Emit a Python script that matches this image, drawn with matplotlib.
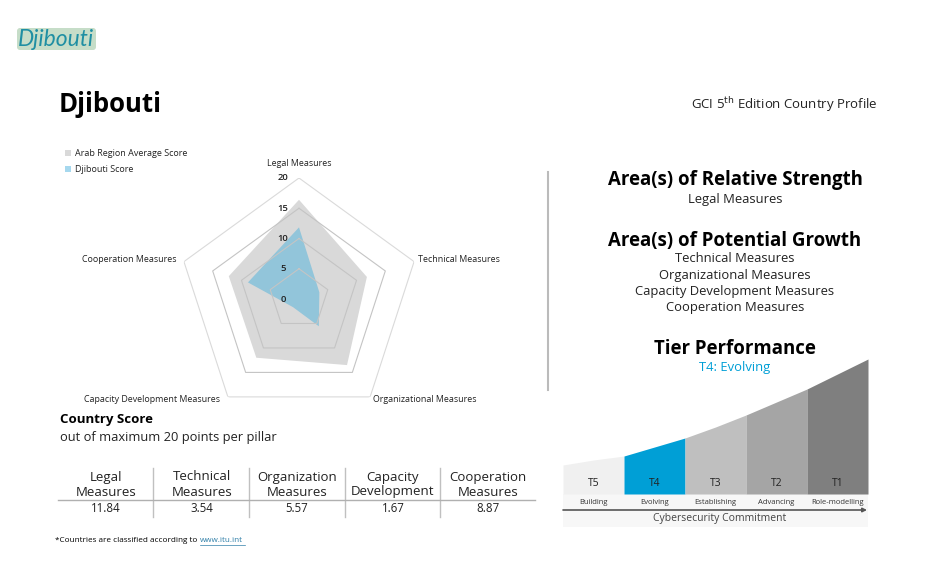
import numpy as np
import matplotlib
matplotlib.use("Agg")
import matplotlib.pyplot as plt
from matplotlib.patches import FancyBboxPatch, Rectangle
from matplotlib.transforms import offset_copy

plt.rcParams['font.family'] = ['Open Sans', 'DejaVu Sans']

# data
pillars = ["Legal Measures", "Technical Measures", "Organizational Measures",
           "Capacity Development Measures", "Cooperation Measures"]
country_scores = [11.84, 3.54, 5.57, 1.67, 8.87]
region_scores = [16.4, 11.8, 13.5, 12.0, 12.2]
radar_ticks = [0, 5, 10, 15, 20]

table_heads = [("Legal", "Measures"), ("Technical", "Measures"),
               ("Organization", "Measures"), ("Capacity", "Development"),
               ("Cooperation", "Measures")]

strength_areas = ["Legal Measures"]
growth_areas = ["Technical Measures", "Organizational Measures",
                "Capacity Development Measures", "Cooperation Measures"]

tier_codes = ["T5", "T4", "T3", "T2", "T1"]
tier_names = ["Building", "Evolving", "Establishing", "Advancing", "Role-modelling"]
tier_colors = ["#f0f0f0", "#009fd6", "#bfbfbf", "#a5a5a5", "#7f7f7f"]
curve_x = [0, 0.5, 1, 1.5, 2, 2.5, 3, 3.5, 4, 4.5, 5]
curve_h = [29, 34, 38, 47, 56, 67, 79, 92, 105, 120, 135]
current_tier = 1

W, H = 927, 579
fig = plt.figure(figsize=(W / 100, H / 100), dpi=100)

# overlay in pixel coordinates for text and decoration
bg = fig.add_axes([0, 0, 1, 1])
bg.set_xlim(0, W)
bg.set_ylim(H, 0)
bg.axis('off')

# header
bg.add_patch(FancyBboxPatch((17, 28), 79, 22, boxstyle="round,pad=0,rounding_size=3",
                            fc="#c6ddc8", ec="none"))
bg.text(18, 39.5, "Djibouti", fontsize=16.5, style='italic', color="#1f8fa3",
        va='center', ha='left', family=['Lato', 'DejaVu Sans'])
bg.text(59, 104, "Djibouti", fontsize=18.5, fontweight='bold', va='center', ha='left')
bg.text(878, 105, r"GCI 5$^{\rm th}$ Edition Country Profile", fontsize=9.5,
        va='center', ha='right', color="#222222")

# radar chart
cx, cy, rad = 299, 299, 121
ax = fig.add_axes([(cx - rad) / W, 1 - (cy + rad) / H, 2 * rad / W, 2 * rad / H],
                  projection='polar')
ax.set_theta_offset(np.pi / 2)
ax.set_theta_direction(-1)
ax.set_ylim(0, 20)
ax.grid(False)
ax.spines['polar'].set_visible(False)
ax.set_xticks([])
ax.set_yticks([])
ax.patch.set_alpha(0)

ang = np.linspace(0, 2 * np.pi, len(pillars), endpoint=False)
ang_c = np.append(ang, ang[0])
ax.fill(ang_c, np.append(region_scores, region_scores[0]), color="#d9d9d9", lw=0, zorder=1)
ax.fill(ang_c, np.append(country_scores, country_scores[0]), color="#92c5da", lw=0, zorder=2)
for v in radar_ticks[1:]:
    ax.plot(ang_c, [v] * len(ang_c), color="#c4c4c4" if v < 20 else "#dadada",
            lw=0.8, zorder=3)
lab_tr = offset_copy(ax.transData, fig=fig, x=-16, y=0, units='dots')
for v in radar_ticks:
    ax.text(0, v, str(v), transform=lab_tr, fontsize=6.8, ha='center', va='center',
            color="#222222", fontweight='semibold', zorder=4)

label_pos = [(299, 163, 'center'), (418, 259, 'left'), (373, 399, 'left'),
             (220, 399, 'right'), (177, 259, 'right')]
for name, (x, y, ha) in zip(pillars, label_pos):
    bg.text(x, y, name, fontsize=6.4, ha=ha, va='center', color="#222222")

# legend
bg.add_patch(Rectangle((65, 150), 6, 6, fc="#d9d9d9", ec="none"))
bg.text(75, 153, "Arab Region Average Score", fontsize=6.5, va='center', color="#222222")
bg.add_patch(Rectangle((65, 166), 6, 6, fc="#a6d8ee", ec="none"))
bg.text(75, 169, "Djibouti Score", fontsize=6.5, va='center', color="#222222")

# country score table
bg.text(60, 420, "Country Score", fontsize=9.5, fontweight='bold', va='center')
bg.text(60, 437, "out of maximum 20 points per pillar", fontsize=9.3, va='center',
        color="#222222")
col_x = [106, 202, 297, 393, 488]
for i, ((h1, h2), val) in enumerate(zip(table_heads, country_scores)):
    bg.text(col_x[i], 477, h1, fontsize=9.5, ha='center', va='center', color="#222222")
    bg.text(col_x[i], 492, h2, fontsize=9.5, ha='center', va='center', color="#222222")
    bg.text(col_x[i], 509, f"{val:.2f}", fontsize=8.3, ha='center', va='center',
            color="#222222")
for x in [153, 249, 345, 440]:
    bg.plot([x, x], [468, 517], color="#c0c0c0", lw=1)
bg.plot([58, 535], [500, 500], color="#b0b0b0", lw=1)

bg.text(55, 541, "*Countries are classified according to", fontsize=5.9, va='center')
bg.text(200, 541, "www.itu.int", fontsize=5.9, va='center', color="#2f7fa8")
bg.plot([200, 245], [545, 545], color="#2f7fa8", lw=0.5)

# divider
bg.plot([548, 548], [172, 390], color="#bbbbbb", lw=1.5)

# right side text
rx = 735
bg.text(rx, 180, "Area(s) of Relative Strength", fontsize=13.4, fontweight='bold',
        ha='center', va='center')
for k, s in enumerate(strength_areas):
    bg.text(rx, 199 + 16 * k, s, fontsize=9.4, ha='center', va='center', color="#222222")
bg.text(rx, 241, "Area(s) of Potential Growth", fontsize=13.4, fontweight='bold',
        ha='center', va='center')
for k, s in enumerate(growth_areas):
    bg.text(rx, 259 + 16 * k, s, fontsize=9.4, ha='center', va='center', color="#222222")
bg.text(rx, 349, "Tier Performance", fontsize=13.4, fontweight='bold',
        ha='center', va='center')
bg.text(rx, 368, f"{tier_codes[current_tier]}: {tier_names[current_tier]}",
        fontsize=9.4, ha='center', va='center', color="#009fd6")

# tier chart
tx0, tx1, tyb, tyt = 563, 868, 494, 359
tax = fig.add_axes([tx0 / W, 1 - tyb / H, (tx1 - tx0) / W, (tyb - tyt) / H])
tax.set_xlim(0, len(tier_codes))
tax.set_ylim(0, max(curve_h))
tax.axis('off')
cxs = np.array(curve_x)
chs = np.array(curve_h)
for i, (code, col) in enumerate(zip(tier_codes, tier_colors)):
    m = (cxs >= i) & (cxs <= i + 1)
    tax.fill_between(cxs[m], 0, chs[m], color=col, lw=0)
    tax.text(i + 0.5, 10, code, fontsize=7.5, ha='center', va='center', color="#222222")

bg.add_patch(Rectangle((563, 494), 305, 33, fc="#f7f7f7", ec="none", zorder=0))
seg = (tx1 - tx0) / len(tier_names)
for i, name in enumerate(tier_names):
    bg.text(tx0 + seg * (i + 0.5), 502, name, fontsize=5.5, ha='center', va='center',
            color="#333333")
bg.annotate("", xy=(867, 510), xytext=(563, 510),
            arrowprops=dict(arrowstyle="-|>", color="#555555", lw=1.2,
                            mutation_scale=6, shrinkA=0, shrinkB=0))
bg.text(720, 518, "Cybersecurity Commitment", fontsize=7.5, ha='center', va='center',
        color="#444444")

fig.savefig("out.png", dpi=100)
